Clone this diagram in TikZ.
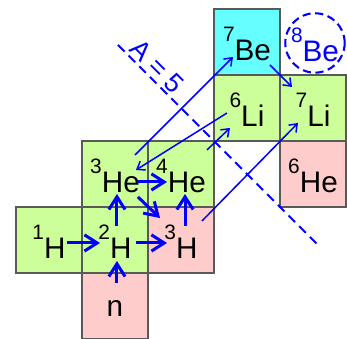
\documentclass[tikz,border=0pt]{standalone}
\usepackage{fontspec}
\setmainfont{Liberation Sans}
\usetikzlibrary{arrows.meta}
\definecolor{nucgreen}{HTML}{CCFF99}
\definecolor{nucpink}{HTML}{FFCCCC}
\definecolor{nuccyan}{HTML}{66FFFF}
\newcommand\iso[2]{\raisebox{8.4pt}{\fontsize{9}{10}\selectfont #1}#2}
\tikzset{
  nuctext/.style={inner sep=0pt, text height=0.57cm, text depth=0pt,
    font=\fontsize{12.8}{15}\selectfont},
  cell/.style={nuctext, draw=black!65, line width=0.6pt, minimum size=1cm},
  stable/.style={cell, fill=nucgreen},
  unstable/.style={cell, fill=nucpink},
  fat/.style={blue, line width=1.3pt, -{Straight Barb[length=5.5pt,width=7pt]}},
  slim/.style={blue, line width=0.65pt, -{Straight Barb[length=3pt,width=4.5pt]}},
}
\begin{document}
\begin{tikzpicture}
    \useasboundingbox (-0.242,-0.985) rectangle (5.015,4.136);

    % chart of light nuclides
    \node[stable] (h1) at (0.5,0.5) {\iso{1}{H}};
    \node[stable] (h2) at (1.5,0.5) {\iso{2}{H}};
    \node[unstable] (h3) at (2.5,0.5) {\iso{3}{H}};
    \node[unstable, text height=0.32cm] (n) at (1.5,-0.5) {n};
    \node[stable] (he3) at (1.5,1.5) {\iso{3}{He}};
    \node[stable] (he4) at (2.5,1.5) {\iso{4}{He}};
    \node[unstable] (he6) at (4.5,1.5) {\iso{6}{He}};
    \node[stable] (li6) at (3.5,2.5) {\iso{6}{Li}};
    \node[stable] (li7) at (4.5,2.5) {\iso{7}{Li}};
    \node[cell, fill=nuccyan] (be7) at (3.5,3.5) {\iso{7}{Be}};

    % unbound 8Be
    \node[draw=blue, circle, line width=0.9pt, dash pattern=on 3.5pt off 2pt,
        minimum size=0.9cm] (ring) at (4.53,3.485) {};
    \node[nuctext, blue] (be8) at (4.53,3.485) {\iso{8}{Be}};

    % main reactions
    \draw[fat] ([shift={(0.273,-0.045)}]h1.center) -- ([shift={(-0.227,-0.045)}]h2.center);
    \draw[fat] ([shift={(0.318,-0.045)}]h2.center) -- ([shift={(-0.212,-0.045)}]h3.center);
    \draw[fat] ([shift={(0.03,0.348)}]n.center) -- ([shift={(0.03,-0.318)}]h2.center);
    \draw[fat] ([shift={(0.03,0.212)}]h2.center) -- ([shift={(0.03,-0.303)}]he3.center);
    \draw[fat] ([shift={(0.061,0.212)}]h3.center) -- ([shift={(0.061,-0.303)}]he4.center);
    \draw[fat] ([shift={(0.333,-0.121)}]he3.center) -- ([shift={(-0.212,-0.121)}]he4.center);
    \draw[fat] ([shift={(0.348,-0.348)}]he3.center) -- ([shift={(-0.318,0.333)}]h3.center);

    % weaker branches
    \draw[slim] ([shift={(0.303,0.288)}]he3.center) -- ([shift={(-0.212,-0.227)}]be7.center);
    \draw[slim] ([shift={(-0.303,-0.076)}]li6.center) -- ([shift={(0.318,0.061)}]he3.center);
    \draw[slim] ([shift={(0.394,0.364)}]he4.center) -- ([shift={(-0.258,-0.303)}]li6.center);
    \draw[slim] ([shift={(0.318,0.288)}]h3.center) -- ([shift={(-0.227,-0.227)}]li7.center);
    \draw[slim] ([shift={(0.348,-0.348)}]be7.center) -- ([shift={(-0.318,0.318)}]li7.center);

    % mass gap
    \coordinate (gaptop) at (1.545,3.455);
    \coordinate (gapbot) at (4.576,0.424);
    \draw[blue, line width=0.9pt, dash pattern=on 4pt off 2.5pt] (gaptop) -- (gapbot);
    \node[blue, rotate=-45, inner sep=0pt, font=\fontsize{11.5}{13}\selectfont]
        (gaplabel) at (2.14,3.13) {A = 5};
\end{tikzpicture}
\end{document}
